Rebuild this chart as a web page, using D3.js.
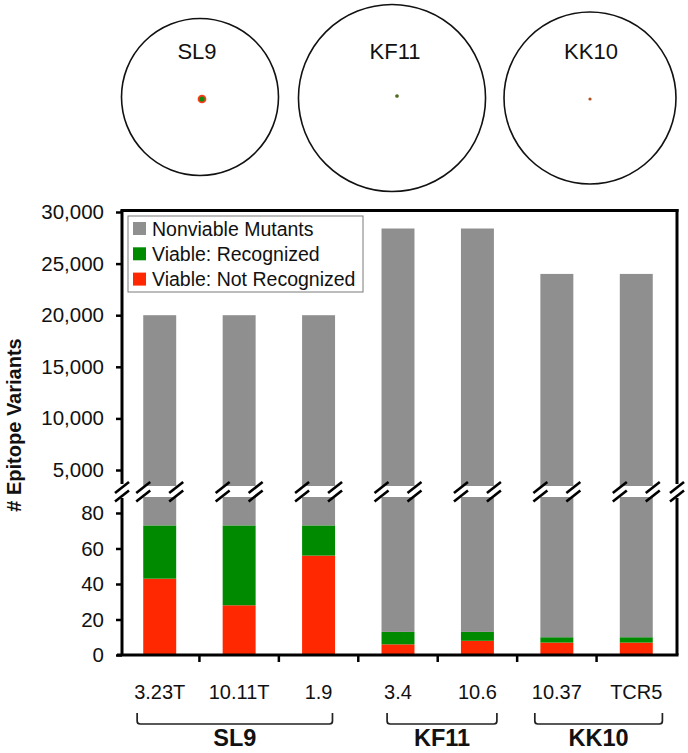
<!DOCTYPE html>
<html>
<head>
<meta charset="utf-8">
<script src="https://cdn.jsdelivr.net/npm/d3@7/dist/d3.min.js"></script>
<style>
  html, body { margin: 0; padding: 0; background: #fff; }
  svg { display: block; font-family: "Liberation Sans", Arial, sans-serif; }
</style>
</head>
<body>
<svg id="chart" width="688" height="753"></svg>
<script>
// ---- data ----
const categories = ["3.23T", "10.11T", "1.9", "3.4", "10.6", "10.37", "TCR5"];
const categoryGroup = ["SL9", "SL9", "SL9", "KF11", "KF11", "KK10", "KK10"];
const totalVariants = [20000, 20000, 20000, 28400, 28400, 24000, 24000];
const viableNotRecognized = [43, 28, 56, 6, 8, 7, 7];
const viableRecognized = [30, 45, 17, 7, 5, 3, 3];
const upperTicks = [5000, 10000, 15000, 20000, 25000, 30000];
const lowerTicks = [0, 20, 40, 60, 80];
const seriesNames = ["Nonviable Mutants", "Viable: Recognized", "Viable: Not Recognized"];
const seriesColors = ["#8f8f8f", "#008a00", "#ff2800"];
const epitopes = ["SL9", "KF11", "KK10"];
const epitopeTotals = [20000, 28400, 24000];
const epitopeViable = [73, 13, 10];
const epitopeDotColors = [["#ff3a1a", "#108a10"], ["#4e6a1c"], ["#b0501e"]];

const svg = d3.select("#chart");

// ---- top circles ----
const rScale = d3.scaleSqrt().domain([0, 20000]).range([0, 78.5]);
const circleCx = [200, 392, 590];
const circleCy = [97, 98, 98];
const labelDx = [-3, 3, 1];
const dotOffset = [[2, 2], [5, -2], [0, 1]];
const circles = svg.append("g");
epitopes.forEach((e, i) => {
  const g = circles.append("g");
  g.append("circle")
    .attr("cx", circleCx[i]).attr("cy", circleCy[i])
    .attr("r", rScale(epitopeTotals[i]))
    .attr("fill", "none").attr("stroke", "#111").attr("stroke-width", 1.6);
  g.append("text")
    .attr("x", circleCx[i] + labelDx[i]).attr("y", 59)
    .attr("text-anchor", "middle").attr("font-size", 22).attr("fill", "#111")
    .text(e);
  const scaleDot = d3.scaleSqrt().domain([0, epitopeTotals[i]]).range([0, rScale(epitopeTotals[i])]);
  const rv = Math.max(scaleDot(epitopeViable[i]) * 0.92, 1.6);
  g.append("circle")
    .attr("cx", circleCx[i] + dotOffset[i][0]).attr("cy", circleCy[i] + dotOffset[i][1])
    .attr("r", rv).attr("fill", epitopeDotColors[i][0]);
  if (epitopeDotColors[i].length > 1) {
    g.append("circle")
      .attr("cx", circleCx[i] + dotOffset[i][0]).attr("cy", circleCy[i] + dotOffset[i][1])
      .attr("r", rv * 0.6).attr("fill", epitopeDotColors[i][1]);
  }
});

// ---- scales ----
const x = d3.scaleBand().domain(categories).range([120, 676])
  .paddingInner(0.585).paddingOuter(0.2925);
const yUp = d3.scaleLinear().domain([3450, 30000]).range([486, 212]);
const yLow = d3.scaleLinear().domain([0, 89]).range([655, 497]);
const axisX0 = 122, axisX1 = 677;

// ---- bars ----
const bars = svg.append("g");
categories.forEach((c, i) => {
  const bx = x(c), bw = x.bandwidth();
  bars.append("rect")
    .attr("x", bx).attr("width", bw)
    .attr("y", yUp(totalVariants[i]))
    .attr("height", yUp.range()[0] - yUp(totalVariants[i]))
    .attr("fill", seriesColors[0]);
  const r = viableNotRecognized[i], g = viableRecognized[i];
  bars.append("rect").attr("x", bx).attr("width", bw)
    .attr("y", yLow(r)).attr("height", yLow(0) - yLow(r)).attr("fill", seriesColors[2]);
  bars.append("rect").attr("x", bx).attr("width", bw)
    .attr("y", yLow(r + g)).attr("height", yLow(r) - yLow(r + g)).attr("fill", seriesColors[1]);
  bars.append("rect").attr("x", bx).attr("width", bw)
    .attr("y", yLow(yLow.domain()[1])).attr("height", yLow(r + g) - yLow(yLow.domain()[1]))
    .attr("fill", seriesColors[0]);
});

// ---- axes ----
const fmt = d3.format(",");
const upAxis = svg.append("g").attr("transform", `translate(${axisX0},0)`)
  .call(d3.axisLeft(yUp).tickValues(upperTicks).tickFormat(fmt).tickSize(6).tickPadding(12).tickSizeOuter(0));
const lowAxis = svg.append("g").attr("transform", `translate(${axisX0},0)`)
  .call(d3.axisLeft(yLow).tickValues(lowerTicks).tickSize(6).tickPadding(12).tickSizeOuter(0));
[upAxis, lowAxis].forEach(a => {
  a.select(".domain").attr("stroke", "#000").attr("stroke-width", 3);
  a.selectAll(".tick line").attr("stroke", "#000").attr("stroke-width", 2.5);
  a.selectAll(".tick text").attr("font-size", 20.5).attr("fill", "#111")
    .attr("font-family", "Liberation Sans, Arial, sans-serif");
});
upAxis.select(".domain").attr("d", `M0,${yUp.range()[0] - 2}V${yUp.range()[1] - 2}`);
lowAxis.select(".domain").attr("d", `M0,${yLow.range()[0] + 1}V${yLow.range()[1] + 1}`);

// x axis
const xTickPos = categories.slice(1).map(c => x(c) - x.step() * x.paddingInner() / 2);
const xAxisG = svg.append("g");
xAxisG.append("line").attr("x1", 117).attr("x2", axisX1 + 1.5)
  .attr("y1", yLow(0)).attr("y2", yLow(0)).attr("stroke", "#000").attr("stroke-width", 3);
xAxisG.selectAll("line.t").data(xTickPos).join("line").attr("class", "t")
  .attr("x1", d => d).attr("x2", d => d).attr("y1", yLow(0)).attr("y2", yLow(0) + 7)
  .attr("stroke", "#000").attr("stroke-width", 2.5);
const catLabels = xAxisG.selectAll("text.cat").data(categories).join("text").attr("class", "cat")
  .attr("x", d => x(d) + x.bandwidth() / 2).attr("y", 699)
  .attr("text-anchor", "middle").attr("font-size", 20).attr("fill", "#111")
  .text(d => d);

// frame: top and right
svg.append("line").attr("x1", axisX0 - 1.5).attr("x2", axisX1 + 1.5)
  .attr("y1", 210.5).attr("y2", 210.5).attr("stroke", "#000").attr("stroke-width", 3);
svg.append("line").attr("x1", axisX1).attr("x2", axisX1)
  .attr("y1", 209).attr("y2", yUp.range()[0] - 2).attr("stroke", "#000").attr("stroke-width", 3);
svg.append("line").attr("x1", axisX1).attr("x2", axisX1)
  .attr("y1", yLow.range()[1] + 1).attr("y2", yLow(0)).attr("stroke", "#000").attr("stroke-width", 3);

// ---- break marks ----
const breakXs = [axisX0, axisX1];
categories.forEach(c => { breakXs.push(x(c)); breakXs.push(x(c) + x.bandwidth()); });
const breakG = svg.append("g");
breakXs.forEach(bx => {
  [487.5, 496].forEach(by => {
    breakG.append("line")
      .attr("x1", bx - 7).attr("y1", by + 5.5)
      .attr("x2", bx + 7).attr("y2", by - 5.5)
      .attr("stroke", "#000").attr("stroke-width", 2.6);
  });
});

// ---- y title ----
svg.append("text")
  .attr("transform", "translate(21,425) rotate(-90)")
  .attr("text-anchor", "middle").attr("font-size", 20).attr("font-weight", "bold")
  .attr("fill", "#111").text("# Epitope Variants");

// ---- legend ----
const leg = svg.append("g");
leg.append("rect").attr("x", 128).attr("y", 216).attr("width", 235).attr("height", 76)
  .attr("fill", "#fff").attr("stroke", "#7a7a7a").attr("stroke-width", 1);
seriesNames.forEach((s, i) => {
  const yy = 222 + i * 25.3;
  leg.append("rect").attr("x", 133).attr("y", yy).attr("width", 13).attr("height", 13)
    .attr("fill", seriesColors[i]);
  leg.append("text").attr("x", 152).attr("y", yy + 13.5)
    .attr("font-size", 19.5).attr("fill", "#111").text(s);
});

// ---- group brackets ----
const groupNames = ["SL9", "KF11", "KK10"];
const brG = svg.append("g");
groupNames.forEach(gn => {
  const idx = categories.map((c, i) => i).filter(i => categoryGroup[i] === gn);
  const nodes = catLabels.nodes();
  const b1 = nodes[idx[0]].getBBox();
  const b2 = nodes[idx[idx.length - 1]].getBBox();
  const x1 = b1.x + 3, x2 = b2.x + b2.width;
  brG.append("path")
    .attr("d", `M${x1},713 V721 Q${x1},724 ${x1 + 3},724 H${x2 - 3} Q${x2},724 ${x2},721 V713`)
    .attr("fill", "none").attr("stroke", "#222").attr("stroke-width", 1.7);
  brG.append("text").attr("x", (x1 + x2) / 2).attr("y", 746)
    .attr("text-anchor", "middle").attr("font-size", 23.5).attr("font-weight", "bold")
    .attr("fill", "#111").text(gn);
});
</script>
</body>
</html>
